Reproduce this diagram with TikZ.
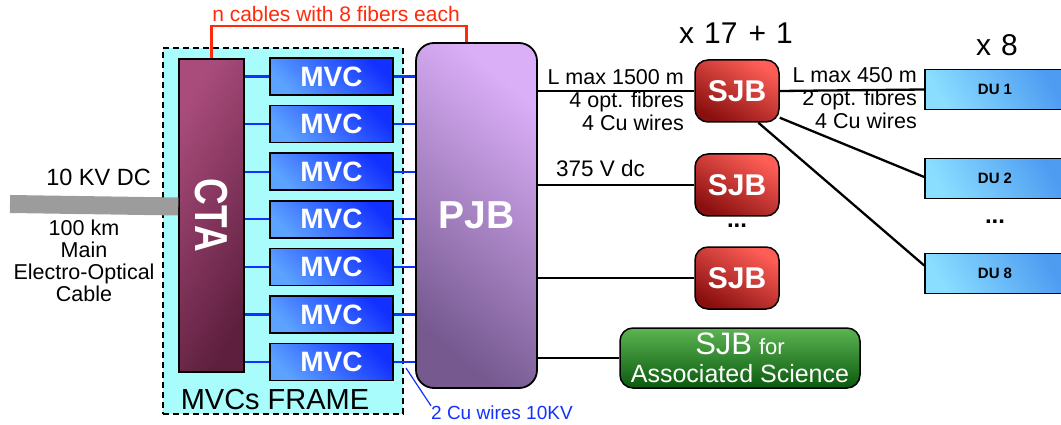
\documentclass[tikz,border=0pt]{standalone}
\usepackage{fontspec}
\setmainfont{Liberation Sans}
\usepackage{graphicx}
\usepackage{tikz}
\usetikzlibrary{positioning}
\definecolor{aqua}{HTML}{A8FCFC}
\definecolor{ctaA}{HTML}{A94C7C}
\definecolor{ctaB}{HTML}{5E1F3E}
\definecolor{mvcA}{HTML}{1230FF}
\definecolor{mvcB}{HTML}{5CA2FF}
\definecolor{pjbA}{HTML}{DBAEF8}
\definecolor{pjbB}{HTML}{75598F}
\definecolor{sjbA}{HTML}{FF5E56}
\definecolor{sjbB}{HTML}{8A1010}
\definecolor{sciA}{HTML}{5CB452}
\definecolor{sciB}{HTML}{0A5A0E}
\definecolor{duA}{HTML}{4E9CF2}
\definecolor{duB}{HTML}{8ADEFF}
\definecolor{wblue}{HTML}{1230FF}
\definecolor{fred}{HTML}{FF2A0A}
\definecolor{cgray}{HTML}{9C9C9C}
\tikzset{
  frm/.style={draw=black,dash pattern=on 6pt off 4pt,line width=1.8pt,fill=aqua,minimum width=240pt,minimum height=366pt},
  cta/.style={draw=black,line width=1.5pt,top color=ctaA,bottom color=ctaB,shading angle=60,minimum width=65pt,minimum height=313pt,inner sep=0pt,text=white,font=\bfseries\fontsize{37}{37}\selectfont},
  mvc/.style={draw=black,line width=1.5pt,top color=mvcA,bottom color=mvcB,shading angle=-45,minimum width=123pt,minimum height=37pt,inner sep=0pt,text=white,font=\bfseries\fontsize{28}{28}\selectfont},
  pjb/.style={draw=black,line width=1.8pt,rounded corners=18pt,top color=pjbA,bottom color=pjbB,shading angle=-40,minimum width=121pt,minimum height=345pt,inner sep=0pt,text=white,font=\bfseries\fontsize{39}{39}\selectfont},
  sjb/.style={draw=black,line width=1.5pt,rounded corners=13pt,top color=sjbA,bottom color=sjbB,shading angle=-30,minimum width=84pt,minimum height=62pt,inner sep=0pt,text=white,font=\bfseries\fontsize{30}{30}\selectfont},
  sci/.style={sjb,top color=sciA,bottom color=sciB,shading angle=0,minimum width=240pt,minimum height=60pt,align=center,font=\fontsize{25}{28}\selectfont},
  du/.style={draw=black,line width=1.5pt,top color=duA,bottom color=duB,shading angle=-60,minimum width=140pt,minimum height=40pt,inner sep=0pt,font=\bfseries\fontsize{15}{15}\selectfont},
  wire/.style={color=wblue,line width=2.2pt},
  link/.style={color=black,line width=2.3pt},
  fib/.style={color=fred,line width=2.2pt},
  lbl/.style={font=\fontsize{21.5}{23}\selectfont,inner sep=0pt},
  big/.style={font=\fontsize{29}{29}\selectfont,inner sep=0pt}}
\begin{document}
\begin{tikzpicture}[x=1pt,y=-1pt]
\useasboundingbox (0,0) rectangle (1061,425);
% shore side
\node[frm] (frame) at (283,231) {};
\node[cta] (cta) at (211.5,215.5) {\rotatebox{-90}{\scalebox{1}[1.25]{CTA}}};
\draw[cgray,line width=18pt] (10,204) -- ([yshift=9pt]cta.west);
\node[lbl,anchor=east,font=\fontsize{23.5}{23.5}\selectfont] (kv) at (151,177) {10 KV DC};
\node[lbl,align=center,font=\fontsize{21.5}{22}\selectfont] (eoc) at (84,261) {100 km\\Main\\Electro-Optical\\Cable};
\node[big] (frmlbl) at (275,400) {MVCs FRAME};
\node[pjb] (pjb) at (476.5,215.5) {PJB};
\foreach \i in {1,...,7}{
  \node[mvc] (m\i) at (331.5,{76.5+47.6*(\i-1)}) {MVC};
  \draw[wire] (cta.east |- m\i.west) -- (m\i.west);
  \draw[wire] (m\i.east) -- (pjb.west |- m\i.east);}
\draw[fib] (cta.north) |- ([xshift=-10pt]pjb.north |- 0,26) -- ([xshift=-10pt]pjb.north);
\node[lbl,text=fred,font=\fontsize{21}{21}\selectfont] (nfib) at (336,14) {n cables with 8 fibers each};
\coordinate (cutip) at (406,368);
\node[lbl,anchor=west,text=wblue,font=\fontsize{19}{19}\selectfont] (cuw) at (431,413) {2 Cu wires 10KV};
\draw[wblue,line width=1.2pt] (cutip) -- (cuw.north west);
% sea side
\node[sjb] (s1) at (737,91) {SJB};
\node[sjb] (s2) at (737,185) {SJB};
\node[sjb] (s3) at (737,278) {SJB};
\node[lbl,font=\bfseries\fontsize{24}{24}\selectfont] (sdots) at (737,226) {...};
\node[sci] (sci) at (740,358) {{\fontsize{31}{31}\selectfont SJB} {\fontsize{22}{22}\selectfont for}\\Associated Science};
\node[big,font=\fontsize{30}{30}\selectfont] (n17) at (736,33) {x\hspace{10pt}17\hspace{11pt}+\hspace{10pt}1};
\foreach \s in {s1,s2,s3,sci} \draw[link] (pjb.east |- \s.west) -- (\s.west);
\node[lbl,align=right,anchor=east] (l1) at (684,100) {L max 1500 m\\4 opt. fibres\\4 Cu wires};
\node[lbl,anchor=west,font=\fontsize{22.5}{22.5}\selectfont] (l2) at (556,168) {375 V dc};
\node[du] (d1) at (995,89.5) {DU 1};
\node[du] (d2) at (995,178.5) {DU 2};
\node[du] (d8) at (995,273.5) {DU 8};
\node[lbl,font=\bfseries\fontsize{24}{24}\selectfont] (ddots) at (995,222) {...};
\node[big,font=\fontsize{30}{30}\selectfont] (n8) at (997,45) {x\hspace{10pt}8};
\draw[link] (s1.east) -- (d1.west);
\draw[link] (s1.-32) -- ([yshift=1.5pt]d2.west);
\draw[link] (s1.-56) -- ([yshift=8pt]d8.west);
\node[lbl,align=right,anchor=east] (l3) at (917,98) {L max 450 m\\2 opt. fibres\\4 Cu wires};
\end{tikzpicture}
\end{document}
